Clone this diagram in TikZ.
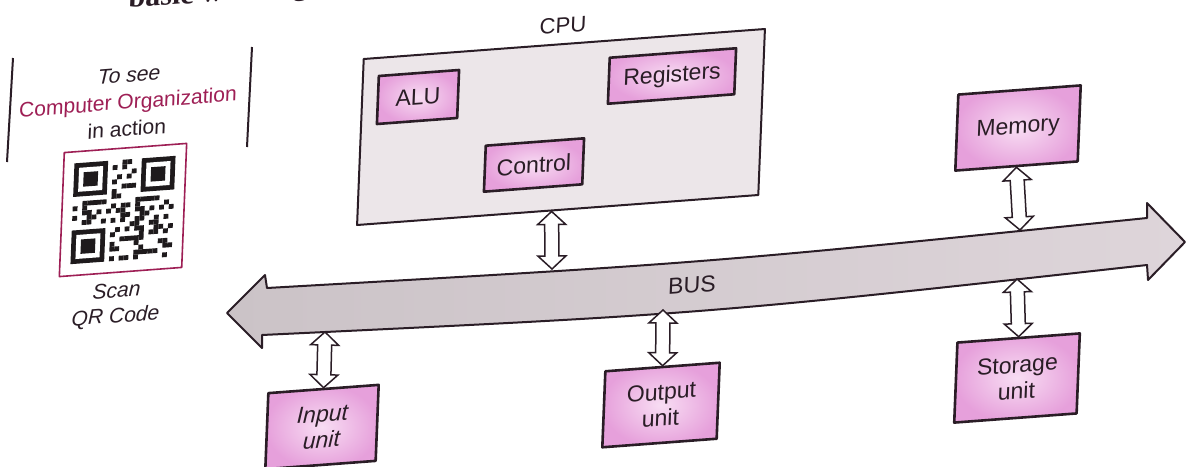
\documentclass[tikz,border=0pt]{standalone}
\usepackage{fontspec}
\setmainfont{Liberation Sans}
\newfontfamily\headfont{Liberation Serif}
\usetikzlibrary{calc}

\definecolor{ink}{HTML}{2A1D26}
\definecolor{boxpink}{HTML}{E6A0DB}
\definecolor{boxpinklight}{HTML}{F8DDF3}
\definecolor{cpugray}{HTML}{ECE6E9}
\definecolor{busgray}{HTML}{CBC3C7}
\definecolor{buslight}{HTML}{DED5DA}
\definecolor{orgred}{HTML}{9E1F55}
\definecolor{qrdark}{HTML}{1E1A1C}

\tikzset{
  tilt/.style={xslant=0.04,yslant=0.075},
  unitbox/.style={tilt,draw=ink,line width=1.3pt,inner color=boxpinklight,outer color=boxpink,
    text=ink,font=\fontsize{11.5}{13}\selectfont,align=center,inner sep=2pt},
  cpubox/.style={tilt,draw=ink,line width=1pt,fill=cpugray},
  buslink/.style={draw=ink,line width=0.75pt,fill=white,line join=miter},
  busline/.style={draw=ink,line width=1pt,left color=busgray,right color=buslight},
  notetext/.style={tilt,align=center,text=ink,font=\fontsize{10.5}{13.5}\selectfont},
}

% hollow two-way arrow between two named points
\newcommand{\linkarrow}[2]{%
  \draw[buslink] (#1)
    -- ($(#1)!6.5pt!(#2)!7pt!90:(#2)$) -- ($(#1)!6.5pt!(#2)!3.5pt!90:(#2)$)
    -- ($(#2)!6.5pt!(#1)!3.5pt!-90:(#1)$) -- ($(#2)!6.5pt!(#1)!7pt!-90:(#1)$)
    -- (#2)
    -- ($(#2)!6.5pt!(#1)!7pt!90:(#1)$) -- ($(#2)!6.5pt!(#1)!3.5pt!90:(#1)$)
    -- ($(#1)!6.5pt!(#2)!3.5pt!-90:(#2)$) -- ($(#1)!6.5pt!(#2)!7pt!-90:(#2)$)
    -- cycle;}

\begin{document}
\begin{tikzpicture}[x=0.5pt,y=-0.5pt,line join=round]
	\path[use as bounding box,fill=white] (0,0) rectangle (1186,466);

	% heading line, cut by the top edge
	\node[tilt,anchor=base west,inner sep=0pt,text=ink,font=\headfont\bfseries\fontsize{15}{18}\selectfont] (heading) at (128,8) {basic working};

	% QR side panel
	\draw[ink,line width=1pt] (13,58) -- (7,162);
	\draw[ink,line width=1pt] (252,47) -- (247,147);
	\node[notetext] (qrnote) at (128,102) {{\itshape To see}\\{\color{orgred}Computer Organization}\\in action};
	\node[tilt,draw=orgred,line width=0.8pt,fill=white,minimum width=61pt,minimum height=62pt] (qr) at (123,210) {};
	\begin{scope}[shift={(qr.center)},tilt,x=2.4pt,y=-2.4pt]
		\foreach \i in {0,...,20}{
			\foreach \j in {0,...,20}{
				\pgfmathtruncatemacro\bit{(mod(7*\i*\i+3*\j*\j+5*\i*\j+\i+2*\j,11)<5)&&!((\i<8)&&(\j<8))&&!((\i<8)&&(\j>12))&&!((\i>12)&&(\j<8))}
				\ifnum\bit=1 \fill[qrdark] (\j-10.5,\i-10.5) rectangle ++(1,1); \fi
			}
		}
		\foreach \fx/\fy in {0/0,14/0,0/14}{
			\fill[qrdark] (\fx-10.5,\fy-10.5) rectangle ++(7,7);
			\fill[white] (\fx-9.5,\fy-9.5) rectangle ++(5,5);
			\fill[qrdark] (\fx-8.5,\fy-8.5) rectangle ++(3,3);
		}
	\end{scope}
	\node[notetext,font=\itshape\fontsize{10.5}{12.5}\selectfont] (scan) at (116,305) {Scan\\QR Code};

	% CPU and its parts
	\node[cpubox,minimum width=200pt,minimum height=83pt] (cpu) at (561,127) {};
	\node[tilt,text=ink,font=\fontsize{11}{13}\selectfont] (cpulabel) at (563,25) {CPU};
	\node[unitbox,minimum width=40pt,minimum height=24pt] (alu) at (418,97) {ALU};
	\node[unitbox,minimum width=63pt,minimum height=23pt] (regs) at (672,76) {Registers};
	\node[unitbox,minimum width=49pt,minimum height=23pt] (ctrl) at (534,165) {Control};

	% units on the bus
	\node[unitbox,minimum width=61pt,minimum height=38pt] (memory) at (1018,128) {Memory};
	\node[unitbox,minimum width=61pt,minimum height=40pt] (storage) at (1017,378) {Storage\\unit};
	\node[unitbox,minimum width=57pt,minimum height=38pt] (outunit) at (661,405) {Output\\unit};
	\node[unitbox,minimum width=55pt,minimum height=38pt,font=\itshape\fontsize{11.5}{13}\selectfont] (inunit) at (322,427) {Input\\unit};

	% the bus
	\draw[busline] (227,313) -- (265,275) -- (267,288) .. controls (707,263) .. (1147,218)
		-- (1147,203) -- (1185,242) -- (1148,280) -- (1147,265)
		.. controls (705,314) .. (262,335) -- (262,348) -- cycle;
	\node[tilt,text=ink,font=\fontsize{11.5}{13}\selectfont] (bus) at (692,285) {BUS};

	\coordinate (bus-cpu) at (552,269);
	\coordinate (bus-mem) at (1020,230);
	\coordinate (bus-in) at (325,332);
	\coordinate (bus-out) at (663,310);
	\coordinate (bus-store) at (1017,279);
	\coordinate (cpu-port) at ($(cpu.south west)!0.485!(cpu.south east)$);

	\linkarrow{cpu-port}{bus-cpu}
	\linkarrow{memory.south}{bus-mem}
	\linkarrow{bus-in}{inunit.north}
	\linkarrow{bus-out}{outunit.north}
	\linkarrow{bus-store}{storage.north}
\end{tikzpicture}
\end{document}
